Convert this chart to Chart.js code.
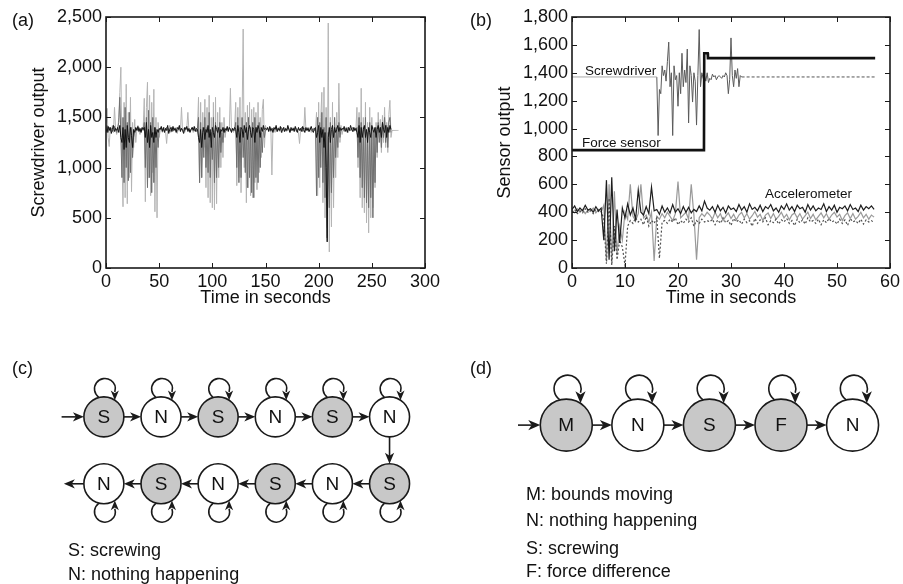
<!DOCTYPE html>
<html>
<head>
<meta charset="utf-8">
<title>Screwdriver sensor traces and state models</title>
<script src="https://cdn.jsdelivr.net/npm/chart.js"></script>
<style>
  body { margin: 0; width: 903px; height: 584px; position: relative; background: #fff; overflow: hidden;
         font-family: "Liberation Sans", Arial, Helvetica, sans-serif; color: #111; }
  canvas, .t { position: absolute; }
  .t { font-size: 18px; line-height: 20px; white-space: nowrap; }
  .s { font-size: 13.5px; line-height: 16px; }
</style>
</head>
<body>
<canvas id="chartA" width="450" height="320" style="left:0;top:0"></canvas>
<canvas id="chartB" width="453" height="320" style="left:450px;top:0"></canvas>
<canvas id="chartC" width="450" height="264" style="left:0;top:320px"></canvas>
<canvas id="chartD" width="453" height="264" style="left:450px;top:320px"></canvas>

<div class="t" style="left:12px;top:10px">(a)</div>
<div class="t" style="left:470px;top:10px">(b)</div>
<div class="t" style="left:12px;top:358px">(c)</div>
<div class="t" style="left:470px;top:358px">(d)</div>

<div class="t s" style="left:585px;top:63px">Screwdriver</div>
<div class="t s" style="left:582px;top:135px">Force sensor</div>
<div class="t s" style="left:765px;top:186px">Accelerometer</div>

<div class="t" style="left:68px;top:540px">S: screwing</div>
<div class="t" style="left:68px;top:564px">N: nothing happening</div>

<div class="t" style="left:526px;top:484px">M: bounds moving</div>
<div class="t" style="left:526px;top:510px">N: nothing happening</div>
<div class="t" style="left:526px;top:538px">S: screwing</div>
<div class="t" style="left:526px;top:561px">F: force difference</div>

<script>
// (a) screwdriver output, one sample per second from t = 0
const secondsPerSampleA = 1;
const lightA = [
  1380,1590,1300,1210,1400,1360,1420,1350,1600,1390,1330,1370,
  1500,1750,2000,1100,610,1650,700,1830,640,1550,900,1700,760,1450,1200,1480,1250,
  1380,1420,1360,1330,1390,1370,1400,
  1690,660,1600,1850,900,1720,720,1650,950,1780,560,1500,500,1450,1300,
  1370,1390,1350,1380,1400,1360,1240,1380,1370,1420,1350,1390,1360,1380,1400,1370,1340,1380,
  1410,1360,1600,1370,1390,1350,1380,1400,1550,1360,1380,1370,1390,1350,1380,1400,1360,1380,
  1700,850,1650,900,1550,1200,1680,800,1600,700,1720,650,1500,600,1650,580,1700,640,1550,900,
  1600,1000,1450,1100,1500,1300,
  1380,1400,1360,1390,1790,1370,1380,1350,1400,
  1650,820,1600,900,1700,750,1500,2380,1000,1550,650,1620,800,1650,720,1580,700,1600,850,1550,
  780,1650,950,1500,1100,1580,1680,1200,1420,
  1370,1390,1360,1380,1400,926,1380,1370,1350,1390,1380,1400,1360,1370,1390,1350,1380,1400,
  1370,1360,1380,1390,1350,1380,1370,1400,1360,1380,1390,1370,1350,1240,1380,1400,1370,1360,
  1600,1380,1390,1360,1370,1400,1350,1380,1370,1390,1360,
  1550,720,1650,800,1500,1750,650,1800,500,1600,400,2440,160,1500,410,1650,600,1450,900,1550,
  1100,1840,1250,1420,1330,
  1380,1360,1390,1370,1400,1350,1380,1370,1390,1360,1380,1400,1370,
  1600,1000,1550,700,1790,600,1500,550,1650,450,1450,350,1600,500,1500,600,1400,800,1450,1100,
  1550,1300,1480,1150,1520,1250,1600,1200,1450,1150,1530,1670,1300,
  1370,1370,1370,1370,1370,1370,1370
];
const darkA = [
  1380,1420,1350,1400,1370,1390,1360,1380,1410,1370,1350,1390,
  1450,1700,1300,900,1500,850,1600,1000,1450,870,1550,950,1400,1100,1300,1350,1380,
  1390,1370,1400,1360,1380,1390,1370,
  1450,1000,1500,800,1570,900,1450,750,1500,850,1400,1000,1350,1200,1380,
  1380,1400,1370,1390,1360,1380,1400,1370,1390,1380,1360,1400,1370,1380,1390,1370,1360,1380,
  1400,1370,1390,1380,1360,1370,1400,1380,1390,1370,1360,1380,1400,1390,1370,1380,1360,1390,
  1500,850,1450,900,1400,1100,1500,1000,1400,950,1550,900,1350,1080,1500,850,1450,900,1400,1000,
  1450,1150,1350,1250,1400,1350,
  1380,1390,1370,1400,1380,1360,1390,1380,1370,
  1450,1000,1500,850,1400,900,1500,1100,1350,950,1450,800,1500,900,1400,750,1450,700,1500,900,
  1400,850,1450,1000,1350,1150,1400,1300,1380,
  1380,1390,1370,1400,1360,1380,1390,1370,1380,1400,1360,1390,1370,1380,1400,1370,1390,1360,
  1380,1370,1400,1390,1360,1380,1370,1390,1380,1400,1360,1370,1390,1380,1370,1400,1360,1380,
  1390,1370,1380,1400,1360,1390,1370,1380,1390,1370,1380,
  720,1500,900,1450,1000,1550,850,1400,700,1500,300,1350,600,1450,750,1400,900,1500,1100,1400,
  1200,1450,1300,1380,1390,
  1380,1370,1390,1400,1360,1380,1390,1370,1380,1400,1360,1390,1370,
  1400,1100,1500,900,1450,800,1400,700,1500,650,1350,600,1450,700,1400,500,1350,850,1400,1150,
  1450,1250,1400,1200,1450,1300,1500,1250,1420,1200,1450,1500,1350
];
const blackA = [
  1390,1350,1410,1370,1400,1340,1380,1420,1360,1390,1370,1400,
  1350,1420,1300,1250,1400,1180,1380,1200,1420,1300,1250,1400,1320,1200,1380,1350,1400,
  1370,1410,1360,1390,1350,1400,1380,
  1400,1300,1450,1250,1380,1200,1420,1300,1350,1250,1400,1300,1380,1350,1390,
  1380,1410,1360,1400,1350,1390,1370,1420,1340,1380,1400,1360,1410,1370,1390,1350,1400,1380,
  1420,1360,1390,1370,1340,1400,1380,1410,1360,1390,1350,1380,1400,1370,1410,1360,1390,1380,
  1300,1250,1380,1200,1350,1400,1280,1380,1350,1420,1300,1380,1200,1400,1350,1300,1420,1380,
  1350,1400,1300,1380,1360,1400,1350,1390,
  1370,1410,1360,1400,1380,1350,1390,1370,1400,
  1380,1300,1420,1350,1250,1400,1380,1300,1420,1350,1400,1280,1380,1420,1350,1300,1400,1380,
  1250,1400,1350,1420,1380,1300,1400,1360,1420,1380,1390,
  1380,1400,1360,1410,1370,1390,1350,1400,1380,1420,1360,1390,1370,1410,1350,1380,1400,1360,
  1390,1370,1420,1380,1350,1400,1370,1390,1360,1410,1380,1350,1400,1370,1390,1360,1410,1380,
  1350,1400,1370,1390,1360,1380,1410,1370,1350,1390,1400,
  1300,1350,1420,1250,1400,1300,1380,1200,1350,1000,260,1300,1400,1250,1380,1420,1300,1400,
  1350,1380,1420,1360,1400,1370,1390,
  1380,1410,1360,1390,1350,1400,1370,1420,1380,1360,1400,1370,1390,
  1350,1300,1420,1250,1400,1300,1380,1420,1300,1380,1250,1400,1350,1300,1420,1380,1350,1400,
  1300,1380,
  1420,1350,1400,1300,1450,1380,1350,1420,1300,1400,1350,1420,1380
];

// (b) sensor outputs
const forceTime  = [0, 24.9, 24.95, 25.6, 25.65, 57.2];
const forceValue = [845, 845, 1540, 1540, 1505, 1505];

const screwLevel = 1370;
const screwStart = 16, screwEnd = 57.2, screwStep = 0.25;
const screwActive = [
  1370,950,1280,1250,1450,1380,1420,1340,1480,1620,1300,1400,950,1450,1350,1380,
  1160,1400,1250,1540,1300,1420,1330,1570,1040,1450,1380,1190,1400,1340,1025,1380,
  1710,1300,1400,1360,1380,1340,1400,1330,1360,1350,1390,1370,1380,1350,1370,1380,
  1370,1360,1380,1370,1400,1380,1250,1350,1650,1380,1300,1420,1360,1430,1300,1380,1370
];

const accStep = 0.5;
const accX = [
  420,445,405,430,410,450,415,425,400,440,410,430,
  200,630,60,650,120,420,180,430,360,460,
  380,430,350,560,400,380,440,390,580,410,420,385,445,400,430,395,455,400,425,390,
  440,400,435,395,420,405,445,410,480,430,
  415,440,400,450,410,435,395,445,420,430,405,455,415,440,400,460,420,435,410,450,
  405,440,425,455,410,430,400,445,420,460,415,440,405,450,425,435,400,455,415,445,
  410,430,420,460,405,440,415,450,400,435,425,445,410,455,420,430,405,450,415,440,
  425,445,420
];
const accY = [
  410,395,425,400,420,390,415,405,430,395,420,400,
  450,50,600,40,550,100,300,200,400,350,
  600,370,340,390,600,360,380,330,400,50,370,350,390,360,400,370,340,390,620,360,
  380,400,350,600,380,60,360,390,370,400,
  380,350,400,360,390,340,370,395,355,385,345,380,400,360,390,350,375,405,365,385,
  340,380,395,355,390,350,370,400,360,385,345,380,395,360,390,350,375,400,355,385,
  345,370,395,360,390,350,380,400,365,385,340,375,395,355,390,350,370,400,360,385,
  350,380,365
];
const accZ = [
  400,420,390,410,395,425,400,415,390,420,405,410,
  350,30,500,20,300,60,200,150,20,300,
  340,320,360,330,350,310,370,300,340,320,360,70,330,340,320,350,330,360,310,340,
  320,350,330,360,300,340,320,350,330,340,
  330,350,310,345,320,360,325,340,305,355,330,345,315,350,325,340,300,355,320,345,
  330,360,310,340,325,350,315,345,330,355,320,340,305,350,325,345,315,360,330,340,
  320,350,310,345,325,355,330,340,315,350,320,345,305,355,330,340,320,350,315,345,
  330,340,325
];

// (c) and (d) state models
const cLetters = ['S','N','S','N','S','N','S','N','S','N','S','N'];
const cCols    = [0, 1, 2, 3, 4, 5, 5, 4, 3, 2, 1, 0];
const cRows    = [0, 0, 0, 0, 0, 0, 1, 1, 1, 1, 1, 1];
const dLetters = ['M','N','S','F','N'];
const dCols    = [0, 1, 2, 3, 4];
const dRows    = [0, 0, 0, 0, 0];

Chart.defaults.font.family = '"Liberation Sans", Arial, Helvetica, sans-serif';
Chart.defaults.font.size = 18;
Chart.defaults.color = '#111';

const series = (vals, t0, step) => vals.map((v, i) => ({ x: t0 + i * step, y: v }));
const commas = v => String(v).replace(/\B(?=(\d{3})+(?!\d))/g, ',');

// box round the plot with inward ticks on all four sides
const framePlugin = {
  id: 'frame',
  afterDraw(chart) {
    const { ctx, chartArea: a } = chart;
    const { x, y } = chart.scales;
    ctx.save();
    ctx.strokeStyle = '#1a1a1a';
    ctx.lineWidth = 1;
    ctx.beginPath();
    x.ticks.forEach(t => {
      const p = Math.round(x.getPixelForValue(t.value)) + 0.5;
      ctx.moveTo(p, a.bottom); ctx.lineTo(p, a.bottom - 5);
      ctx.moveTo(p, a.top); ctx.lineTo(p, a.top + 5);
    });
    y.ticks.forEach(t => {
      const p = Math.round(y.getPixelForValue(t.value)) + 0.5;
      ctx.moveTo(a.left, p); ctx.lineTo(a.left + 5, p);
      ctx.moveTo(a.right, p); ctx.lineTo(a.right - 5, p);
    });
    ctx.stroke();
    ctx.lineWidth = 1.6;
    ctx.strokeRect(a.left, a.top, a.right - a.left, a.bottom - a.top);
    ctx.restore();
  }
};

function plotOptions(c) {
  return {
    responsive: false,
    animation: false,
    events: [],
    layout: { padding: { left: 0, top: 17, right: c.padRight, bottom: 0 } },
    plugins: { legend: { display: false }, tooltip: { enabled: false } },
    elements: { point: { radius: 0 }, line: { tension: 0 } },
    scales: {
      x: {
        type: 'linear', min: c.xMin, max: c.xMax,
        grid: { display: false, drawTicks: false }, border: { display: false },
        ticks: { stepSize: c.xStep, padding: 3, autoSkip: false, maxRotation: 0 },
        title: { display: true, text: 'Time in seconds', padding: { top: 0, bottom: 11 } },
        afterFit: s => { s.height = 52; }
      },
      y: {
        type: 'linear', min: c.yMin, max: c.yMax,
        grid: { display: false, drawTicks: false }, border: { display: false },
        ticks: { stepSize: c.yStep, padding: 4, autoSkip: false, callback: commas },
        title: { display: true, text: c.yTitle, padding: { top: c.titlePad, bottom: 0 } },
        afterFit: s => { s.width = c.left; }
      }
    }
  };
}

new Chart(document.getElementById('chartA'), {
  type: 'line',
  data: {
    datasets: [
      { data: series(blackA, 0, secondsPerSampleA), borderColor: '#111', borderWidth: 1, order: 1 },
      { data: series(darkA, 0, secondsPerSampleA), borderColor: '#6e6e6e', borderWidth: 1, order: 2 },
      { data: series(lightA, 0, secondsPerSampleA), borderColor: '#b4b4b4', borderWidth: 1, order: 3 }
    ]
  },
  options: plotOptions({ xMin: 0, xMax: 300, xStep: 50, yMin: 0, yMax: 2500, yStep: 500,
                         yTitle: 'Screwdriver output', titlePad: 28, left: 106, padRight: 25 }),
  plugins: [framePlugin]
});

const screwPoints = series(screwActive, screwStart, screwStep);
new Chart(document.getElementById('chartB'), {
  type: 'line',
  data: {
    datasets: [
      { data: forceTime.map((t, i) => ({ x: t, y: forceValue[i] })), borderColor: '#111', borderWidth: 2.6, order: 1 },
      { data: [{ x: 0, y: screwLevel }, screwPoints[0]], borderColor: '#aaaaaa', borderWidth: 1, order: 2 },
      { data: screwPoints, borderColor: '#5a5a5a', borderWidth: 1, order: 2 },
      { data: [screwPoints[screwPoints.length - 1], { x: screwEnd, y: screwLevel }], borderColor: '#555', borderWidth: 1, borderDash: [3, 2], order: 2 },
      { data: series(accX, 0, accStep), borderColor: '#1e1e1e', borderWidth: 1.2, order: 3 },
      { data: series(accZ, 0, accStep), borderColor: '#505050', borderWidth: 1.2, borderDash: [2, 2], order: 4 },
      { data: series(accY, 0, accStep), borderColor: '#9a9a9a', borderWidth: 1.2, order: 5 }
    ]
  },
  options: plotOptions({ xMin: 0, xMax: 60, xStep: 10, yMin: 0, yMax: 1800, yStep: 200,
                         yTitle: 'Sensor output', titlePad: 44, left: 122, padRight: 11 }),
  plugins: [framePlugin]
});

function arrowHead(ctx, x, y, ang, len) {
  const w = len * 0.42;
  ctx.save();
  ctx.translate(x, y);
  ctx.rotate(ang);
  ctx.beginPath();
  ctx.moveTo(0, 0);
  ctx.lineTo(-len, -w);
  ctx.lineTo(-len * 0.72, 0);
  ctx.lineTo(-len, w);
  ctx.closePath();
  ctx.fill();
  ctx.restore();
}

function link(ctx, a, b, ra, rb, head) {
  const ang = Math.atan2(b[1] - a[1], b[0] - a[0]);
  const c = Math.cos(ang), s = Math.sin(ang);
  const x2 = b[0] - rb * c, y2 = b[1] - rb * s;
  ctx.beginPath();
  ctx.moveTo(a[0] + ra * c, a[1] + ra * s);
  ctx.lineTo(x2 - head * 0.7 * c, y2 - head * 0.7 * s);
  ctx.stroke();
  arrowHead(ctx, x2, y2, ang, head);
}

// dir -1: loop above the node, +1: loop below
function selfLoop(ctx, cx, cy, r, dir) {
  const R = r * 0.52, ox = cx + r * 0.05, oy = cy + dir * r * 1.4;
  const start = 0.7 * Math.PI, end = 2 * Math.PI + 0.3;
  ctx.beginPath();
  if (dir < 0) ctx.arc(ox, oy, R, start, end, false);
  else ctx.arc(ox, oy, R, -start, -end, true);
  ctx.stroke();
  const ex = ox + R * Math.cos(end), ey = oy - dir * R * Math.sin(end);
  const dx = ex - cx;
  const tx = ex, ty = cy + dir * Math.sqrt(r * r - dx * dx);
  arrowHead(ctx, tx, ty, Math.atan2(ty - ey, tx - ex), Math.hypot(tx - ex, ty - ey) + 1.5);
}

function graphPlugin(spec) {
  return {
    id: 'graph',
    beforeDatasetsDraw(chart) {
      const { ctx } = chart;
      const sx = chart.scales.x, sy = chart.scales.y;
      const r = spec.radius;
      const pts = spec.cols.map((c, i) => [sx.getPixelForValue(c), sy.getPixelForValue(spec.rows[i])]);
      ctx.save();
      ctx.strokeStyle = '#1a1a1a';
      ctx.fillStyle = '#1a1a1a';
      ctx.lineWidth = 1.6;
      for (let i = 0; i + 1 < pts.length; i++) link(ctx, pts[i], pts[i + 1], r, r, spec.head);
      link(ctx, [sx.getPixelForValue(spec.entry[0]), sy.getPixelForValue(spec.entry[1])], pts[0], 0, r, spec.head);
      if (spec.exit) {
        link(ctx, pts[pts.length - 1], [sx.getPixelForValue(spec.exit[0]), sy.getPixelForValue(spec.exit[1])], r, 0, spec.head);
      }
      pts.forEach((p, i) => selfLoop(ctx, p[0], p[1], r, spec.rows[i] > 0 ? 1 : -1));
      ctx.restore();
    },
    afterDatasetsDraw(chart) {
      const { ctx } = chart;
      const sx = chart.scales.x, sy = chart.scales.y;
      ctx.save();
      ctx.fillStyle = '#111';
      ctx.font = '19px "Liberation Sans", Arial, sans-serif';
      ctx.textAlign = 'center';
      ctx.textBaseline = 'middle';
      spec.letters.forEach((l, i) => ctx.fillText(l, sx.getPixelForValue(spec.cols[i]), sy.getPixelForValue(spec.rows[i]) + 1));
      ctx.restore();
    }
  };
}

function stateChart(id, spec) {
  new Chart(document.getElementById(id), {
    type: 'scatter',
    data: {
      datasets: [{
        data: spec.cols.map((c, i) => ({ x: c, y: spec.rows[i] })),
        pointRadius: spec.radius,
        pointBackgroundColor: spec.letters.map(l => l === 'N' ? '#ffffff' : '#c8c8c8'),
        pointBorderColor: '#1a1a1a',
        pointBorderWidth: 1.6,
        clip: false
      }]
    },
    options: {
      responsive: false,
      animation: false,
      events: [],
      layout: { padding: 0 },
      plugins: { legend: { display: false }, tooltip: { enabled: false } },
      scales: {
        x: { type: 'linear', display: false, min: spec.xMin, max: spec.xMax },
        y: { type: 'linear', display: false, reverse: true, min: spec.yMin, max: spec.yMax }
      }
    },
    plugins: [graphPlugin(spec)]
  });
}

stateChart('chartC', { letters: cLetters, cols: cCols, rows: cRows, radius: 20, head: 11,
  entry: [-0.74, 0], exit: [-0.7, 1], xMin: -1.44, xMax: 5.68, yMin: -1.125, yMax: 2.175 });
stateChart('chartD', { letters: dLetters, cols: dCols, rows: dRows, radius: 26, head: 12,
  entry: [-0.675, 0], xMin: -1.239, xMax: 4.319, yMin: -0.98, yMax: 1.66 });
</script>
</body>
</html>
